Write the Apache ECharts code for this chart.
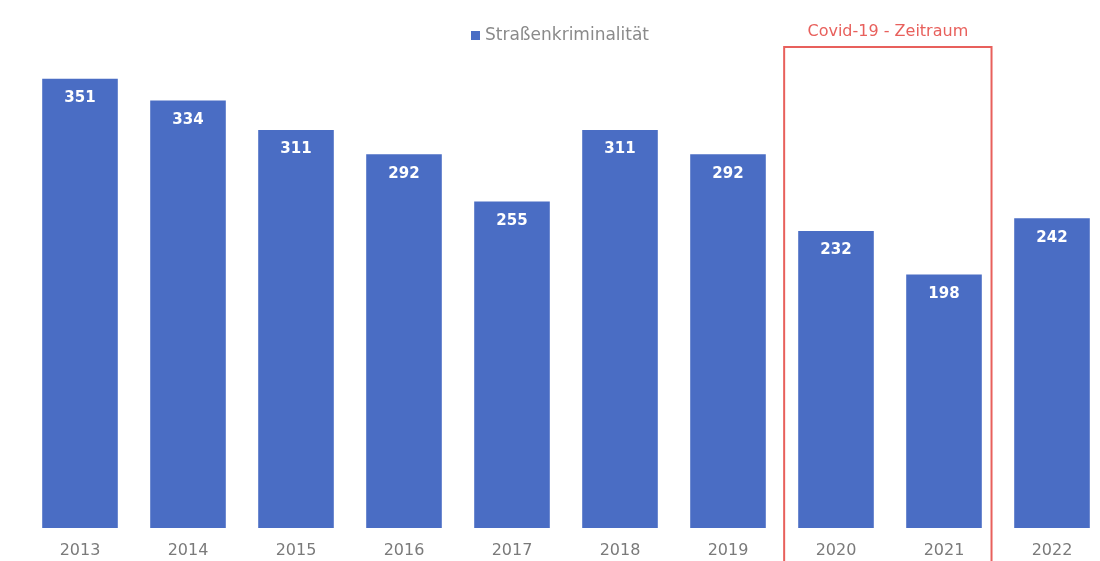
<!DOCTYPE html>
<html>
<head>
<meta charset="utf-8">
<title>Straßenkriminalität</title>
<script src="https://cdn.jsdelivr.net/npm/echarts@6/dist/echarts.min.js"></script>
<style>
  html, body { margin: 0; padding: 0; background: #ffffff; }
  #chart { width: 1100px; height: 561px; }
</style>
</head>
<body>
<div id="chart"></div>
<script>
// Yearly counts of street crime
const years = ['2013', '2014', '2015', '2016', '2017', '2018', '2019', '2020', '2021', '2022'];
const cases = [351, 334, 311, 292, 255, 311, 292, 232, 198, 242];
const seriesName = 'Straßenkriminalität';
const covidLabel = 'Covid-19 - Zeitraum';
const covidYears = ['2020', '2021'];

const FONT = 'DejaVu Sans, Verdana, sans-serif';
const chart = echarts.init(document.getElementById('chart'));

chart.setOption({
  animation: false,
  backgroundColor: '#ffffff',
  textStyle: { fontFamily: FONT },
  legend: {
    top: 22,
    left: 466,
    itemWidth: 9,
    itemHeight: 9,
    itemGap: 6,
    icon: 'rect',
    textStyle: { color: '#8a8a8a', fontSize: 17, fontFamily: FONT },
    data: [seriesName]
  },
  grid: {
    left: 26, width: 1080, top: 16, bottom: 33,
    containLabel: false,
    outerBoundsMode: 'none'
  },
  xAxis: {
    type: 'category',
    data: years,
    axisLine: { show: false },
    axisTick: { show: false },
    axisLabel: { color: '#7a7a7a', fontSize: 16, margin: 15, fontFamily: FONT }
  },
  yAxis: {
    type: 'value',
    min: 0,
    max: 400,
    show: false,
    splitLine: { show: false }
  },
  series: [{
    name: seriesName,
    type: 'bar',
    data: cases,
    barCategoryGap: '30%',
    itemStyle: { color: '#4a6dc4' },
    label: {
      show: true,
      position: 'insideTop',
      distance: 12,
      color: '#ffffff',
      fontSize: 15,
      fontWeight: 'bold',
      fontFamily: FONT
    }
  }]
});

// Red frame around the pandemic years, placed from the axis scale
function drawCovidFrame() {
  const a = chart.convertToPixel({ xAxisIndex: 0 }, covidYears[0]);
  const b = chart.convertToPixel({ xAxisIndex: 0 }, covidYears[1]);
  const band = b - a;
  const left = a - band * 0.48;
  const right = b + band * 0.44;
  const top = 47;
  chart.setOption({
    graphic: [
      {
        type: 'rect',
        shape: { x: left, y: top, width: right - left, height: 561 - top + 10 },
        style: { fill: 'none', stroke: '#e8605c', lineWidth: 2 },
        silent: true
      },
      {
        type: 'text',
        x: (left + right) / 2,
        y: 32,
        style: {
          text: covidLabel,
          fill: '#e8605c',
          fontSize: 16,
          align: 'center',
          verticalAlign: 'middle',
          fontFamily: FONT
        },
        silent: true
      }
    ]
  });
}
drawCovidFrame();
</script>
</body>
</html>
